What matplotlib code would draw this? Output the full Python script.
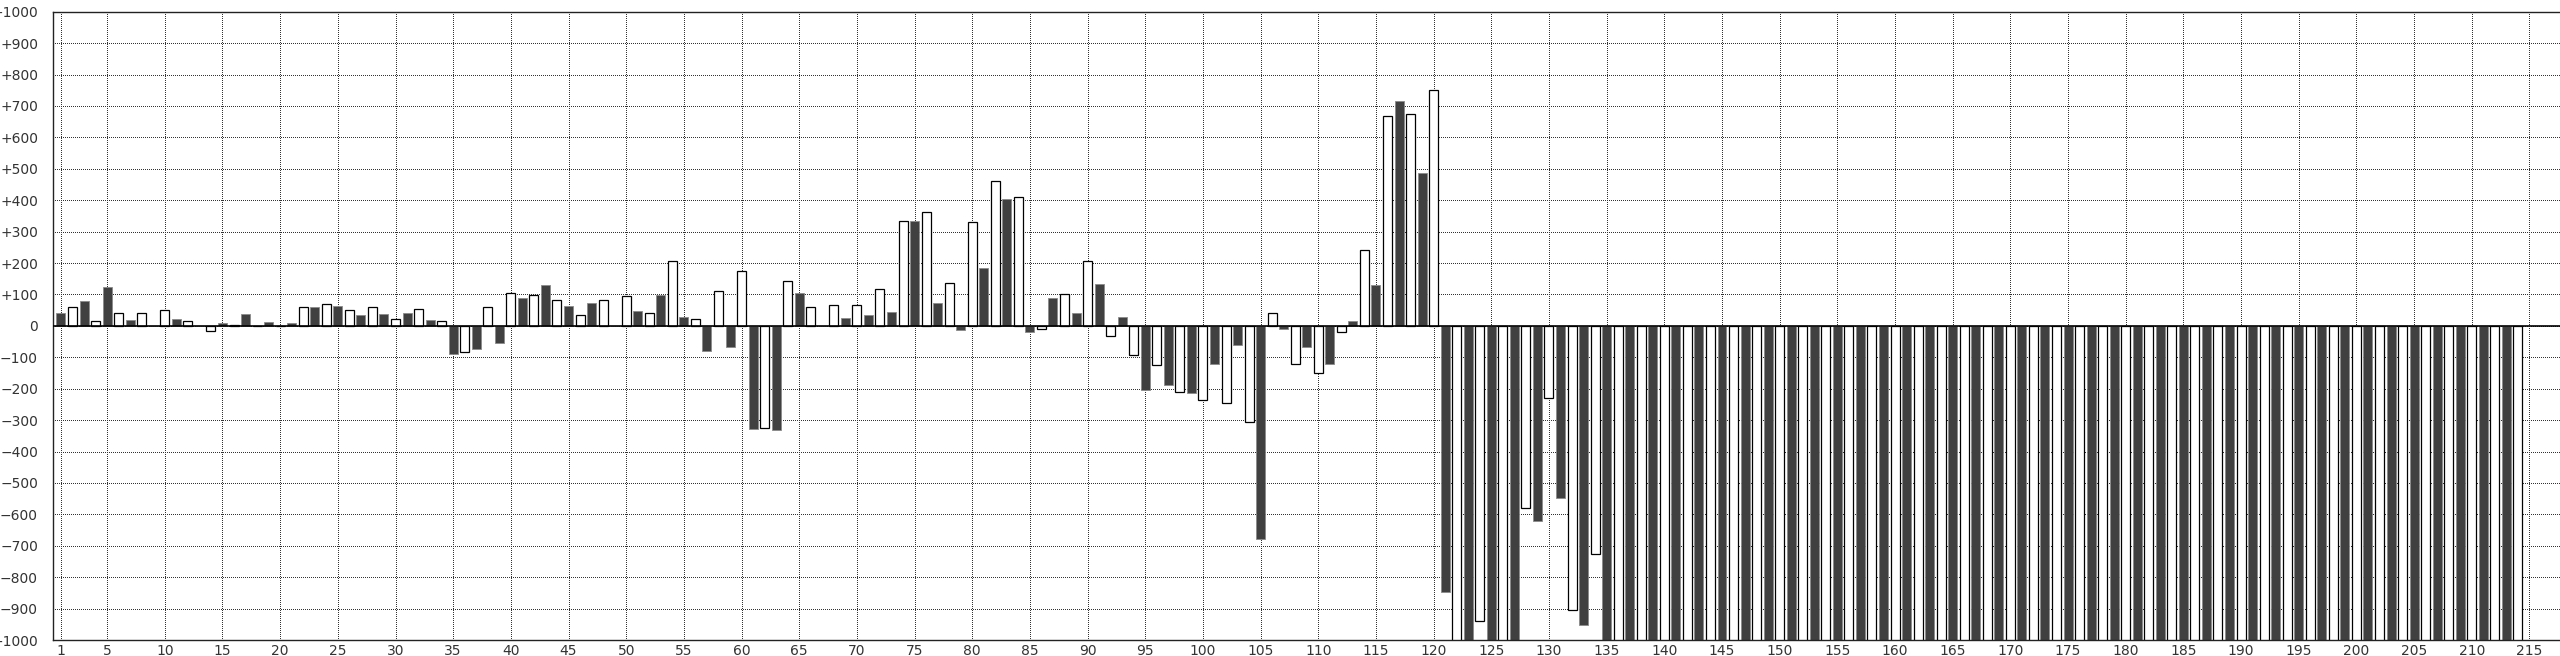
import matplotlib
matplotlib.use('Agg')
import matplotlib.pyplot as plt
import numpy as np

plt.rcParams['lines.scale_dashes'] = False

# numeri macchina 1..214
machines = np.arange(1, 215)

# valori (le barre oltre -1000 sono fuori scala)
values_1_60 = [42, 60, 80, 16, 124, 41, 19, 41, 0, 51,
               23, 16, 0, -16, 9, 4, 37, 0, 13, 0,
               9, 60, 60, 69, 62, 51, 33, 60, 37, 22,
               42, 55, 19, 16, -90, -84, -75, 60, -56, 106,
               89, 97, 131, 83, 62, 33, 74, 83, 0, 95,
               48, 41, 98, 208, 29, 22, -80, 111, -66, 176]
values_61_120 = [-328, -326, -333, 144, 103, 61, 0, 65, 26, 65,
                 34, 116, 43, 333, 333, 361, 74, 137, -12, 331,
                 185, 461, 405, 411, -21, -11, 89, 101, 41, 207,
                 134, -33, 29, -93, -205, -126, -188, -209, -214, -236,
                 -122, -245, -62, -305, -677, 42, -11, -122, -66, -149,
                 -122, -19, 15, 241, 131, 667, 715, 675, 487, 750]
values_121_134 = [-847, -1100, -1100, -938, -1100, -1100, -1100, -579, -621, -231,
                  -548, -905, -951, -726]
values_135_214 = [-1100] * 80

values = np.array(values_1_60 + values_61_120 + values_121_134 + values_135_214)

# dispari = scuro, pari = bianco
dark = machines % 2 == 1

y_ticks = np.arange(-1000, 1001, 100)
y_labels = ['+%d' % v if v > 0 else ('0' if v == 0 else '\u2212%d' % -v) for v in y_ticks]
x_ticks = [1] + list(range(5, 216, 5))

fig = plt.figure(figsize=(25.6, 6.56), dpi=100)
ax = fig.add_axes([53.3 / 2560, 16 / 656, 1 - 53.3 / 2560, 628.3 / 656])

ax.bar(machines[dark], values[dark], width=0.78, color='#404040',
       edgecolor='#8a8a8a', linewidth=0.6, zorder=2)
ax.bar(machines[~dark], values[~dark], width=0.78, color='white',
       edgecolor='black', linewidth=0.9, zorder=2)

ax.axhline(0, color='black', linewidth=1.2, zorder=3)

ax.set_xlim(0.333, 217.65)
ax.set_ylim(-1000, 1000)
ax.set_yticks(y_ticks)
ax.set_yticklabels(y_labels)
ax.set_xticks(x_ticks)
ax.set_xticklabels([str(t) for t in x_ticks])
ax.tick_params(axis='both', length=0, labelsize=10, colors='#333333')
ax.tick_params(axis='y', pad=11)
ax.tick_params(axis='x', pad=3)

# griglia punteggiata, 1 px acceso / 2 px spento
ax.grid(True, color='#333333', linestyle=(0, (0.72, 1.44)), linewidth=0.72,
        antialiased=False, zorder=0)
ax.set_axisbelow(True)

for side in ['left', 'top', 'bottom']:
    ax.spines[side].set_linewidth(1.0)
    ax.spines[side].set_color('#222222')
ax.spines['right'].set_visible(False)

fig.savefig('out.png', dpi=100)
